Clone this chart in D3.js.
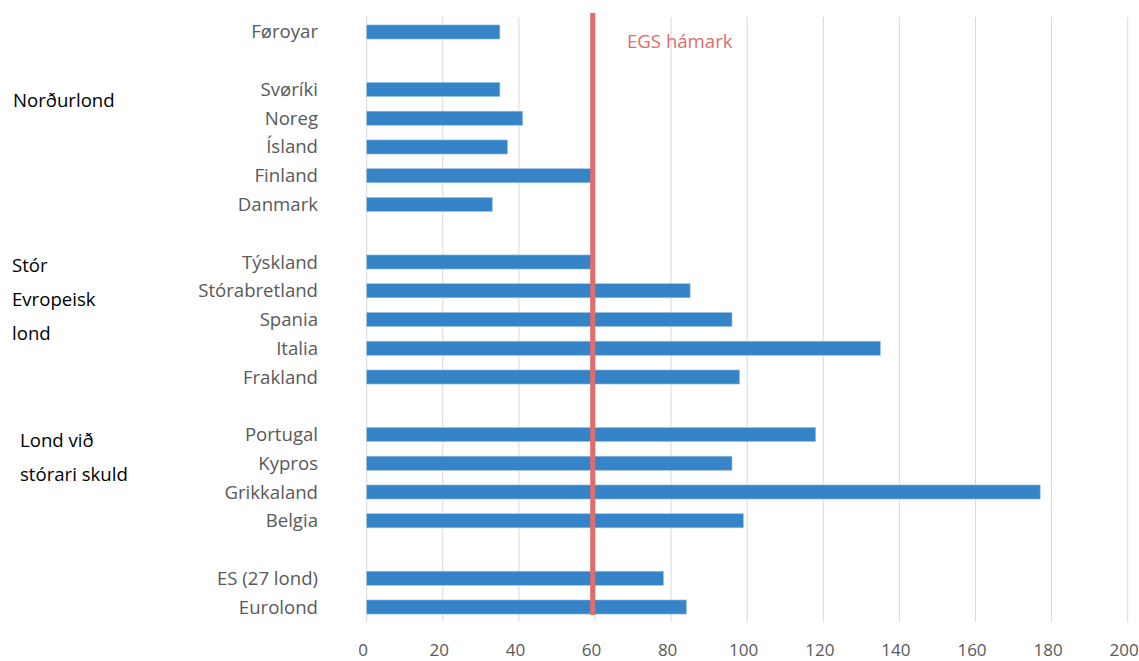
<!DOCTYPE html>
<html>
<head>
<meta charset="utf-8">
<script src="https://cdn.jsdelivr.net/npm/d3@7"></script>
<style>
  body { margin: 0; background: #fff; }
  svg { display: block; font-family: "Open Sans", "Noto Sans", sans-serif; }
</style>
</head>
<body>
<svg id="chart" width="1139" height="661"></svg>
<script>
// rows from top to bottom, empty strings are the gaps between groups
const countries = ['Føroyar', '', 'Svøríki', 'Noreg', 'Ísland', 'Finland', 'Danmark', '',
    'Týskland', 'Stórabretland', 'Spania', 'Italia', 'Frakland', '',
    'Portugal', 'Kypros', 'Grikkaland', 'Belgia', '', 'ES (27 lond)', 'Eurolond'];
const debt = [35, null, 35, 41, 37, 59, 33, null,
    59, 85, 96, 135, 98, null,
    118, 96, 177, 99, null, 78, 84];
const xTicks = [0, 20, 40, 60, 80, 100, 120, 140, 160, 180, 200];
const limitValue = 59.4;
const limitLabel = 'EGS hámark';
const groupLabels = [
    { lines: ['Norðurlond'], row: 2.6, x: 13 },
    { lines: ['Stór', 'Evropeisk', 'lond'], row: 8.35, x: 12 },
    { lines: ['Lond við', 'stórari skuld'], row: 14.43, x: 20 }
];

const svg = d3.select('#chart');

const x = d3.scaleLinear().domain([0, 200]).range([366.7, 1127.7]);
const y = d3.scaleBand()
    .domain(d3.range(countries.length))
    .range([17.6, 621.4])
    .paddingInner(0.51)
    .paddingOuter(0.255);
const rowCenter = r => y(0) + y.bandwidth() / 2 + r * y.step();

// gridlines
svg.append('g')
    .selectAll('line')
    .data(xTicks)
    .join('line')
    .attr('x1', d => x(d)).attr('x2', d => x(d))
    .attr('y1', 17).attr('y2', 622)
    .attr('stroke', '#d9d9d9')
    .attr('stroke-width', 1);

// x axis labels
const xAxis = svg.append('g')
    .attr('transform', 'translate(0,622)')
    .call(d3.axisBottom(x).tickValues(xTicks).tickSize(0).tickPadding(22));
xAxis.select('.domain').remove();
xAxis.selectAll('text')
    .attr('dx', -4)
    .attr('fill', '#595959')
    .style('font-size', '17px')
    .style('font-family', '"Open Sans", "Noto Sans", sans-serif');

// bars
const rows = countries.map((c, i) => ({ name: c, value: debt[i], i }));
svg.append('g')
    .selectAll('rect')
    .data(rows.filter(d => d.value != null))
    .join('rect')
    .attr('x', x(0))
    .attr('y', d => y(d.i))
    .attr('width', d => x(d.value) - x(0))
    .attr('height', y.bandwidth())
    .attr('fill', '#3584c7')
    .attr('stroke', '#9cc3e6')
    .attr('stroke-width', 0.6);

// country labels
svg.append('g')
    .selectAll('text')
    .data(rows.filter(d => d.name))
    .join('text')
    .attr('x', 318)
    .attr('y', d => y(d.i) + y.bandwidth() / 2)
    .attr('dy', '0.35em')
    .attr('text-anchor', 'end')
    .attr('fill', '#595959')
    .style('font-size', '18.6px')
    .text(d => d.name);

// limit line
svg.append('line')
    .attr('x1', x(limitValue)).attr('x2', x(limitValue))
    .attr('y1', 13).attr('y2', 615)
    .attr('stroke', '#e06c6c')
    .attr('stroke-width', 5);

svg.append('text')
    .attr('x', 627)
    .attr('y', 48)
    .attr('fill', '#e06c6c')
    .style('font-size', '18.6px')
    .text(limitLabel);

// group labels on the left
groupLabels.forEach(g => {
    const t = svg.append('text')
        .attr('fill', '#000')
        .style('font-size', '18.6px');
    g.lines.forEach((line, k) => {
        t.append('tspan')
            .attr('x', g.x)
            .attr('y', rowCenter(g.row) + k * 34)
            .text(line);
    });
});
</script>
</body>
</html>
